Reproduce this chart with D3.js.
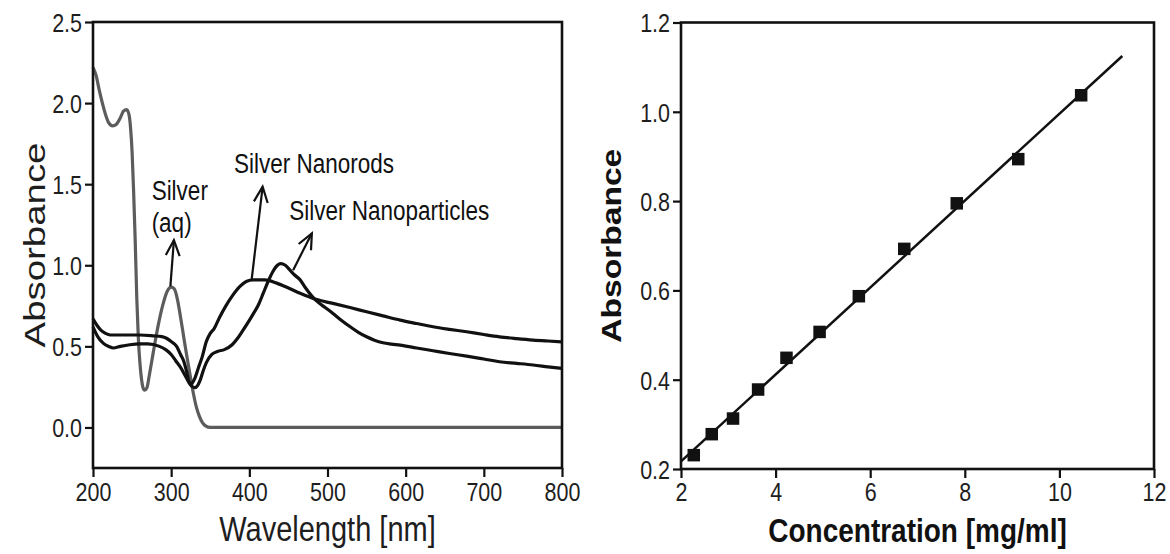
<!DOCTYPE html>
<html>
<head>
<meta charset="utf-8">
<script src="https://cdn.jsdelivr.net/npm/d3@7"></script>
<style>
  html, body { margin: 0; padding: 0; background: #fff; }
  svg { display: block; font-family: "Liberation Sans", Arial, Helvetica, sans-serif; }
</style>
</head>
<body>
<svg id="chart" width="1170" height="554"></svg>
<script>
// ---------- UV-Vis spectra: [wavelength nm, absorbance] ----------
const silverAq = [
  [200, 2.22], [204, 2.17], [208, 2.08], [212, 2.00], [216, 1.93], [220, 1.88],
  [225, 1.86], [230, 1.87], [235, 1.91], [239, 1.95], [243, 1.96], [246, 1.93],
  [248, 1.85], [250, 1.70], [252, 1.45], [254, 1.15], [256, 0.80], [258, 0.55],
  [260, 0.40], [262, 0.30], [264, 0.245], [266, 0.23], [269, 0.245], [272, 0.32],
  [277, 0.46], [283, 0.62], [289, 0.75], [295, 0.84], [300, 0.865], [304, 0.855],
  [308, 0.79], [312, 0.68], [316, 0.56], [320, 0.44], [324, 0.33], [328, 0.22],
  [332, 0.13], [336, 0.07], [340, 0.03], [344, 0.01], [350, 0.0], [450, 0.0],
  [600, 0.0], [800, 0.0]
];

const silverNanorods = [
  [200, 0.67], [205, 0.63], [210, 0.60], [216, 0.58], [222, 0.57], [240, 0.57],
  [260, 0.57], [277, 0.565], [288, 0.56], [294, 0.55], [300, 0.53], [307, 0.50],
  [312, 0.45], [316, 0.41], [320, 0.34], [323, 0.28], [326, 0.27], [330, 0.30],
  [335, 0.37], [340, 0.44], [345, 0.53], [350, 0.58], [355, 0.61], [362, 0.68],
  [370, 0.75], [378, 0.81], [388, 0.87], [396, 0.90], [405, 0.91], [420, 0.91],
  [435, 0.89], [450, 0.86], [465, 0.827], [485, 0.79], [507, 0.765], [530, 0.738],
  [550, 0.713], [571, 0.688], [593, 0.662], [614, 0.641], [635, 0.621], [656, 0.605],
  [678, 0.59], [700, 0.573], [720, 0.559], [742, 0.548], [763, 0.539], [782, 0.533],
  [800, 0.528]
];

const silverNanoparticles = [
  [200, 0.62], [206, 0.56], [213, 0.52], [220, 0.50], [226, 0.49], [235, 0.50],
  [247, 0.51], [260, 0.515], [270, 0.515], [285, 0.50], [293, 0.48], [300, 0.45],
  [306, 0.41], [312, 0.37], [319, 0.31], [325, 0.26], [330, 0.245], [334, 0.26],
  [337, 0.29], [341, 0.35], [345, 0.40], [352, 0.45], [360, 0.47], [368, 0.48],
  [378, 0.51], [385, 0.55], [392, 0.60], [400, 0.66], [405, 0.70], [412, 0.76],
  [418, 0.83], [424, 0.90], [430, 0.96], [436, 1.00], [440, 1.01], [446, 1.00],
  [452, 0.97], [458, 0.94], [465, 0.91], [472, 0.86], [480, 0.81], [486, 0.78],
  [497, 0.74], [507, 0.703], [518, 0.66], [529, 0.621], [540, 0.585], [550, 0.559],
  [560, 0.538], [571, 0.522], [582, 0.514], [593, 0.508], [614, 0.49], [635, 0.473],
  [656, 0.456], [678, 0.44], [700, 0.422], [720, 0.405], [742, 0.395], [763, 0.385],
  [782, 0.374], [800, 0.364]
];

const spectraXTicks = [200, 300, 400, 500, 600, 700, 800];
const spectraYTicks = [0.0, 0.5, 1.0, 1.5, 2.0, 2.5];

// Peak labels with arrows: tail sits on the curve, head points at the text
const peakLabels = [
  { lines: ["Silver", "(aq)"], textAt: [275, 1.40], tail: [299, 0.87], head: [303.5, 1.155] },
  { lines: ["Silver Nanorods"], textAt: [380.5, 1.57], tail: [403, 0.913], head: [417, 1.484] },
  { lines: ["Silver Nanoparticles"], textAt: [451, 1.28], tail: [456, 0.97], head: [480, 1.197] }
];

// ---------- Calibration: concentration (mg/ml) vs absorbance ----------
const concentration = [2.27, 2.65, 3.10, 3.63, 4.23, 4.93, 5.76, 6.72, 7.83, 9.13, 10.46];
const calAbsorbance = [0.231, 0.278, 0.313, 0.378, 0.449, 0.507, 0.587, 0.693, 0.795, 0.894, 1.037];
const fitConcentration = [2.0, 11.33];
const fitAbsorbance = [0.217, 1.125];
const calXTicks = [2, 4, 6, 8, 10, 12];
const calYTicks = [0.2, 0.4, 0.6, 0.8, 1.0, 1.2];

const svg = d3.select("#chart");
const INK = "#111";
const LABEL = "#1e1e1e";
const TALL = 1.2;          // glyphs are drawn a little taller than wide

function styleAxis(g, orient, baseline) {
  g.select(".domain").remove();
  g.selectAll(".tick line").attr("stroke", INK).attr("stroke-width", 2.2);
  const t = g.selectAll(".tick text")
    .attr("fill", LABEL)
    .attr("font-size", 21.5);
  if (orient === "bottom") {
    t.attr("y", baseline / TALL).attr("dy", 0).attr("transform", `scale(1,${TALL})`);
  } else {
    t.attr("dy", "0.36em").attr("transform", `scale(1,${TALL})`);
  }
}

// text placed at (x, y) baseline and stretched vertically
function tallText(g, x, y, str, size, weight) {
  return g.append("text")
    .attr("transform", `translate(${x},${y}) scale(1,${TALL})`)
    .attr("font-size", size)
    .attr("font-weight", weight || "normal")
    .attr("fill", LABEL)
    .text(str);
}

function frame(g, x0, x1, y0, y1) {
  g.append("rect")
    .attr("x", x0).attr("y", y0)
    .attr("width", x1 - x0).attr("height", y1 - y0)
    .attr("fill", "none").attr("stroke", INK).attr("stroke-width", 2.6);
}

// ================= Left panel: spectra =================
{
  const x = d3.scaleLinear().domain([200, 800]).range([93, 562]);
  const y = d3.scaleLinear().domain([-0.25, 2.5]).range([468, 22]);
  const g = svg.append("g");

  const line = d3.line()
    .x(d => x(d[0])).y(d => y(d[1]))
    .curve(d3.curveMonotoneX);

  g.append("path").datum(silverAq)
    .attr("d", line).attr("fill", "none")
    .attr("stroke", "#5c5c5c").attr("stroke-width", 3.2).attr("stroke-linejoin", "round");
  g.append("path").datum(silverNanoparticles)
    .attr("d", line).attr("fill", "none")
    .attr("stroke", INK).attr("stroke-width", 3.2).attr("stroke-linejoin", "round");
  g.append("path").datum(silverNanorods)
    .attr("d", line).attr("fill", "none")
    .attr("stroke", INK).attr("stroke-width", 3.2).attr("stroke-linejoin", "round");

  const ax = g.append("g").attr("transform", `translate(0,${y(-0.25)})`)
    .call(d3.axisBottom(x).tickValues(spectraXTicks).tickSize(9).tickPadding(0).tickFormat(d3.format("d")));
  styleAxis(ax, "bottom", 33);

  const ay = g.append("g").attr("transform", `translate(${x(200)},0)`)
    .call(d3.axisLeft(y).tickValues(spectraYTicks).tickSize(8).tickPadding(3).tickFormat(d3.format(".1f")));
  styleAxis(ay, "left");

  frame(g, x(200), x(800), y(2.5), y(-0.25));

  tallText(g, (x(200) + x(800)) / 2, 541, "Wavelength [nm]", 29)
    .attr("text-anchor", "middle");

  g.append("text")
    .attr("transform", `translate(45,${(y(2.5) + y(-0.25)) / 2}) rotate(-90) scale(1.28,1)`)
    .attr("text-anchor", "middle").attr("font-size", 30).attr("fill", LABEL)
    .text("Absorbance");

  // peak labels and arrows
  peakLabels.forEach(p => {
    p.lines.forEach((s, i) => {
      tallText(g, x(p.textAt[0]), y(p.textAt[1]) + i * 32, s, 22.5).attr("fill", INK);
    });
    const tx = x(p.tail[0]), ty = y(p.tail[1]);
    const hx = x(p.head[0]), hy = y(p.head[1]);
    const ang = Math.atan2(ty - hy, tx - hx);
    const len = 17, spread = 0.42;
    g.append("line")
      .attr("x1", tx).attr("y1", ty).attr("x2", hx).attr("y2", hy)
      .attr("stroke", INK).attr("stroke-width", 2.2);
    g.append("path")
      .attr("d", `M${hx + len * Math.cos(ang - spread)},${hy + len * Math.sin(ang - spread)}L${hx},${hy}L${hx + len * Math.cos(ang + spread)},${hy + len * Math.sin(ang + spread)}`)
      .attr("fill", "none").attr("stroke", INK).attr("stroke-width", 2.2)
      .attr("stroke-linejoin", "miter");
  });
}

// ================= Right panel: calibration =================
{
  const x = d3.scaleLinear().domain([2, 12]).range([681, 1154]);
  const y = d3.scaleLinear().domain([0.2, 1.2]).range([469, 22.5]);
  const g = svg.append("g");

  const fit = fitConcentration.map((c, i) => [c, fitAbsorbance[i]]);
  g.append("path").datum(fit)
    .attr("d", d3.line().x(d => x(d[0])).y(d => y(d[1])))
    .attr("fill", "none").attr("stroke", INK).attr("stroke-width", 2.5);

  const size = 12.5;
  g.selectAll("rect.pt").data(concentration.map((c, i) => [c, calAbsorbance[i]]))
    .join("rect").attr("class", "pt")
    .attr("x", d => x(d[0]) - size / 2).attr("y", d => y(d[1]) - size / 2)
    .attr("width", size).attr("height", size).attr("fill", INK);

  const ax = g.append("g").attr("transform", `translate(0,${y(0.2)})`)
    .call(d3.axisBottom(x).tickValues(calXTicks).tickSize(9).tickPadding(0).tickFormat(d3.format("d")));
  styleAxis(ax, "bottom", 32);

  const ay = g.append("g").attr("transform", `translate(${x(2)},0)`)
    .call(d3.axisLeft(y).tickValues(calYTicks).tickSize(8).tickPadding(3).tickFormat(d3.format(".1f")));
  styleAxis(ay, "left");

  frame(g, x(2), x(12), y(1.2), y(0.2));

  tallText(g, (x(2) + x(12)) / 2, 542, "Concentration [mg/ml]", 28, "bold")
    .attr("text-anchor", "middle").attr("fill", INK);

  g.append("text")
    .attr("transform", `translate(621,${(y(1.2) + y(0.2)) / 2}) rotate(-90) scale(1.2,1)`)
    .attr("text-anchor", "middle").attr("font-size", 28).attr("font-weight", "bold").attr("fill", INK)
    .text("Absorbance");
}
</script>
</body>
</html>
